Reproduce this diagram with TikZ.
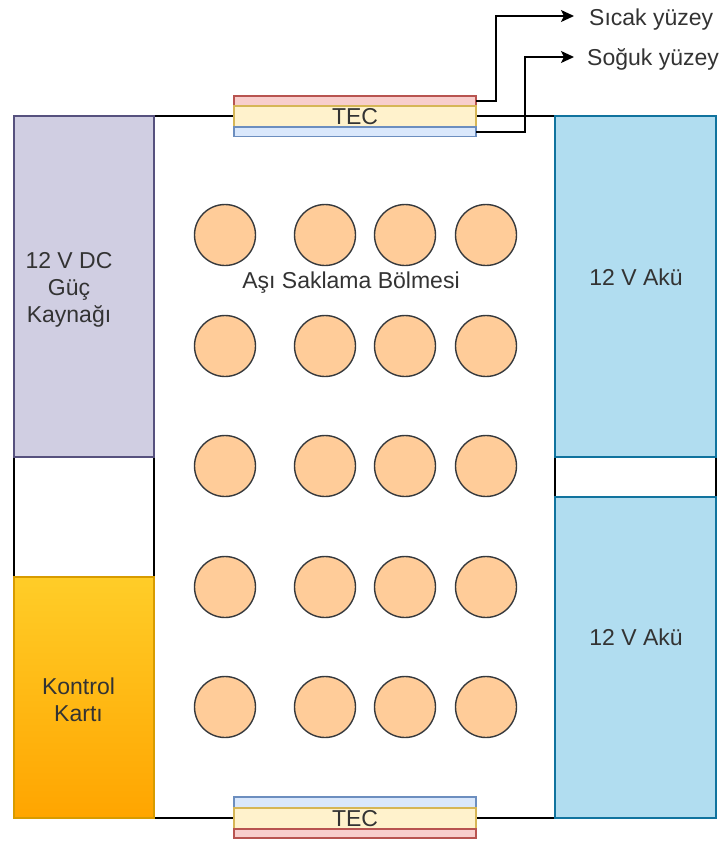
\documentclass[tikz,border=0pt]{standalone}
\usepackage{fontspec}
\setmainfont{Liberation Sans}
\usetikzlibrary{arrows.meta}
\definecolor{txt}{HTML}{333333}
\definecolor{purplefill}{HTML}{D0CEE2}
\definecolor{purpleline}{HTML}{56517E}
\definecolor{bluefill}{HTML}{B1DDF0}
\definecolor{blueline}{HTML}{10739E}
\definecolor{orangetop}{HTML}{FFCD28}
\definecolor{orangebot}{HTML}{FFA500}
\definecolor{orangeline}{HTML}{D79B00}
\definecolor{vialfill}{HTML}{FFCC99}
\definecolor{vialline}{HTML}{36393D}
\definecolor{tecredfill}{HTML}{F8CECC}
\definecolor{tecredline}{HTML}{B85450}
\definecolor{tecyelfill}{HTML}{FFF2CC}
\definecolor{tecyelline}{HTML}{D6B656}
\definecolor{tecbluefill}{HTML}{DAE8FC}
\definecolor{tecblueline}{HTML}{6C8EBF}
\begin{document}
\begin{tikzpicture}[x=1pt,y=-1pt,
  box/.style={draw, line width=1.2pt, inner sep=0pt, outer sep=0pt, anchor=north west},
  lbl/.style={font=\fontsize{23}{27}\selectfont, text=txt, align=center, inner sep=0pt},
  vial/.style={circle, draw=vialline, fill=vialfill, line width=1.4pt, minimum size=61pt, inner sep=0pt},
  conn/.style={draw=black, line width=1.5pt, -{Stealth[length=13pt,width=12pt,inset=3pt]}}]
\useasboundingbox[fill=white] (0,0) rectangle (724,841);
% storage chamber
\node[box, draw=black, fill=white, minimum width=401pt, minimum height=702pt] (store) at (154,116) {};
% left column
\node[box, draw=black, fill=white, minimum width=140pt, minimum height=702pt] (leftcol) at (14,116) {};
\node[box, draw=purpleline, fill=purplefill, minimum width=140pt, minimum height=341pt] (psu) at (14,116) {};
\node[box, draw=orangeline, top color=orangetop, bottom color=orangebot, minimum width=140pt, minimum height=241pt] (ctrl) at (14,577) {};
% right column
\node[box, draw=black, fill=white, minimum width=161pt, minimum height=702pt] (rightcol) at (555,116) {};
\node[box, draw=blueline, fill=bluefill, minimum width=161pt, minimum height=341pt] (bat1) at (555,116) {};
\node[box, draw=blueline, fill=bluefill, minimum width=161pt, minimum height=321pt] (bat2) at (555,497) {};
% top TEC
\node[box, draw=tecredline, fill=tecredfill, minimum width=242pt, minimum height=10pt] (hotr) at (234,96) {};
\node[box, draw=tecyelline, fill=tecyelfill, minimum width=242pt, minimum height=21pt] (tectop) at (234,106) {};
\node[box, draw=tecblueline, fill=tecbluefill, minimum width=242pt, minimum height=9.5pt] (coldr) at (234,127) {};
% bottom TEC
\node[box, draw=tecblueline, fill=tecbluefill, minimum width=242pt, minimum height=11pt] (coldb) at (234,797) {};
\node[box, draw=tecyelline, fill=tecyelfill, minimum width=242pt, minimum height=21pt] (tecbot) at (234,808) {};
\node[box, draw=tecredline, fill=tecredfill, minimum width=242pt, minimum height=9pt] (hotb) at (234,829) {};
% labels
\node[lbl] (tectxt1) at (tectop.center) {TEC};
\node[lbl] (tectxt2) at (tecbot.center) {TEC};
\node[lbl, anchor=center] (psutxt) at (69,290) {12 V DC\\Güç\\Kaynağı};
\node[lbl, anchor=center] (ctrltxt) at (78.5,700) {Kontrol\\Kartı};
\node[lbl, anchor=base] (bat1txt) at (636,285) {12 V Akü};
\node[lbl, anchor=base] (bat2txt) at (636,645) {12 V Akü};
\node[lbl, anchor=base] (storetxt) at (351,288) {Aşı Saklama Bölmesi};
\node[lbl, anchor=base west] (sicak) at (589,25) {Sıcak yüzey};
\node[lbl, anchor=base west] (soguk) at (587,65) {Soğuk yüzey};
% vials
\foreach \r/\yy in {1/235,2/346,3/466,4/587,5/707}{
  \foreach \c/\xx in {1/225,2/325,3/405,4/486}{
    \node[vial] (v\r\c) at (\xx,\yy) {};
  }
}
% connectors
\coordinate (hottip) at (574,16);
\coordinate (coldtip) at (574,57);
\draw[conn] (hotr.east) -- ++(20,0) |- (hottip);
\draw[conn] (coldr.east) -- ++(49,0) |- (coldtip);
\end{tikzpicture}
\end{document}
